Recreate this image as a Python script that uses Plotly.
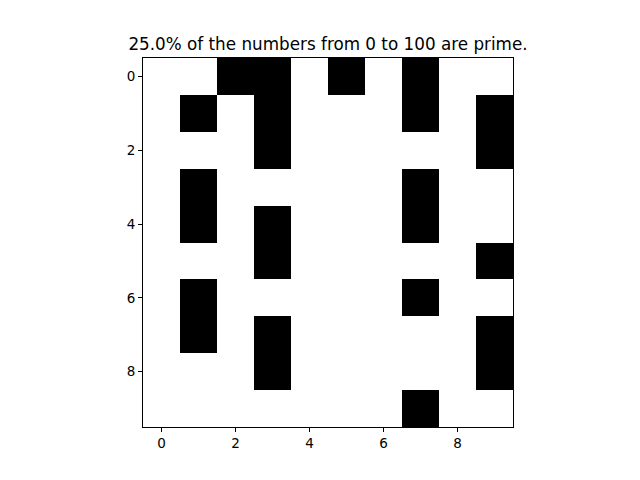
import plotly.graph_objects as go

title_text = "25.0% of the numbers from 0 to 100 are prime."
col_index = list(range(10))
row_index = list(range(10))
# 1 = prime, 0 = not prime; cell (row r, col c) is the number 10*r + c
is_prime = [
    [0, 0, 1, 1, 0, 1, 0, 1, 0, 0],
    [0, 1, 0, 1, 0, 0, 0, 1, 0, 1],
    [0, 0, 0, 1, 0, 0, 0, 0, 0, 1],
    [0, 1, 0, 0, 0, 0, 0, 1, 0, 0],
    [0, 1, 0, 1, 0, 0, 0, 1, 0, 0],
    [0, 0, 0, 1, 0, 0, 0, 0, 0, 1],
    [0, 1, 0, 0, 0, 0, 0, 1, 0, 0],
    [0, 1, 0, 1, 0, 0, 0, 0, 0, 1],
    [0, 0, 0, 1, 0, 0, 0, 0, 0, 1],
    [0, 0, 0, 0, 0, 0, 0, 1, 0, 0],
]
tick_vals = [0, 2, 4, 6, 8]

fig = go.Figure(go.Heatmap(
    z=is_prime, x=col_index, y=row_index,
    colorscale=[[0, "white"], [1, "black"]],
    zmin=0, zmax=1, showscale=False, hoverinfo="skip",
))

W, H = 640, 480
L, R, T, B = 143, 127, 58, 53

axis_common = dict(
    showgrid=False, zeroline=False, showline=True, linecolor="black",
    linewidth=1, mirror=True, ticks="outside", ticklen=4, tickwidth=1,
    tickcolor="black", tickvals=tick_vals,
    tickfont=dict(family="DejaVu Sans", size=13.5, color="black"),
)

fig.update_layout(
    width=W, height=H,
    margin=dict(l=L, r=R, t=T, b=B, pad=0),
    plot_bgcolor="white", paper_bgcolor="white",
    title=dict(text=title_text, x=(L + (W - R)) / 2 / W, xanchor="center",
               y=1 - 44 / H, yanchor="middle", yref="container",
               font=dict(family="DejaVu Sans", size=16.8, color="black")),
    xaxis=dict(range=[-0.5, 9.5], **axis_common),
    yaxis=dict(range=[9.5, -0.5], **axis_common),
)

fig.write_html("out.html")
